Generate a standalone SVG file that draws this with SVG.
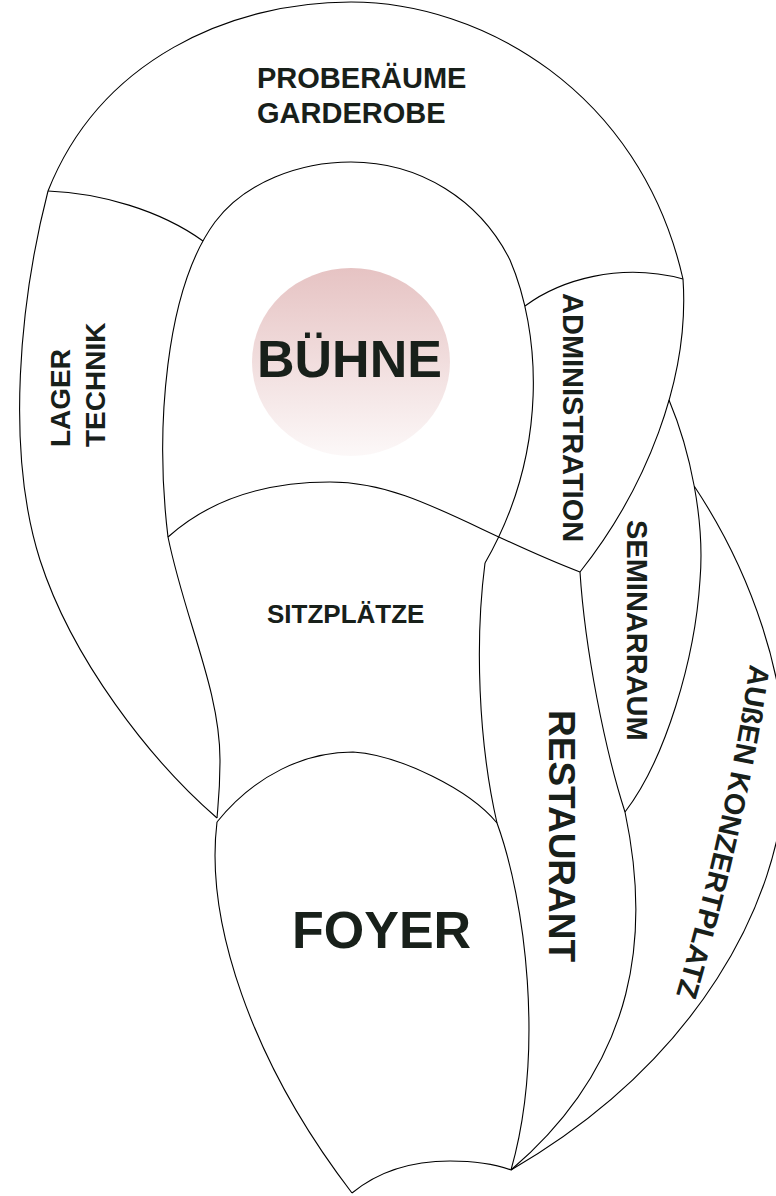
<svg xmlns="http://www.w3.org/2000/svg" width="776" height="1196" viewBox="0 0 776 1196">
<defs>
<linearGradient id="pink" x1="0" y1="0" x2="0" y2="1">
<stop offset="0" stop-color="#e6c3c3"/>
<stop offset="1" stop-color="#fcf8f8"/>
</linearGradient>
<path id="aussenPath" d="M750,664 Q 722,850 660,1048"/>
</defs>
<style>
.ln{fill:none;stroke:#000;stroke-width:1.1}
.lb{font-family:"Liberation Sans",Arial,sans-serif;font-weight:bold;fill:#18201a}
</style>
<rect width="776" height="1196" fill="#fff"/>
<g id="buehne-bg">
<ellipse cx="351" cy="362" rx="99" ry="94" fill="url(#pink)"/>
</g>
<g id="connectors">
<path class="ln" d="M48,191 C 100,60 230,2 351,2 C 480,2 640,90 683,279"/>
<path class="ln" d="M48,191 C 20,300 5,450 40,560 C 72,659 150,760 217,818"/>
<path class="ln" d="M48,191 C 100,193 160,210 203,241"/>
<path class="ln" d="M168,537 C 155,430 165,290 215,222 C 245,182 300,162 351,162 C 420,162 480,200 510,260 C 540,330 550,450 485,563"/>
<path class="ln" d="M525,306 C 560,280 620,262 683,279"/>
<path class="ln" d="M683,279 C 690,380 645,490 580,572"/>
<path class="ln" d="M168,537 C 215,495 275,482 330,482 C 410,482 470,530 580,572"/>
<path class="ln" d="M168,537 C 185,620 220,690 220,760 C 220,790 218,805 217,818"/>
<path class="ln" d="M485,563 C 475,640 478,740 497,823 C 525,900 545,1050 511,1170"/>
<path class="ln" d="M580,572 C 585,650 605,750 625,812"/>
<path class="ln" d="M625,812 C 650,930 640,1060 511,1170"/>
<path class="ln" d="M669,400 C 690,450 705,520 700,580 C 695,660 665,760 625,812"/>
<path class="ln" d="M694.3,486.3 C 750,570 790,680 785,780 C 780,900 700,1060 511,1170"/>
<path class="ln" d="M217,822 C 255,775 305,752 353,752 C 400,755 470,790 497,823"/>
<path class="ln" d="M217,822 C 205,920 250,1060 352,1193"/>
<path class="ln" d="M352,1193 C 380,1170 415,1161 450,1161 C 475,1161 495,1164 511,1170"/>
</g>
<g id="proberaeume"><text class="lb" x="257" y="88" font-size="29">PROBERÄUME</text><text class="lb" x="257" y="122.5" font-size="29">GARDEROBE</text></g>
<g id="buehne"><text class="lb" x="257" y="377" font-size="52">BÜHNE</text></g>
<g id="sitzplaetze"><text class="lb" x="267" y="623" font-size="26">SITZPLÄTZE</text></g>
<g id="lager"><text class="lb" font-size="28" transform="translate(69.5,447) rotate(-90)">LAGER</text><text class="lb" font-size="28" transform="translate(105,447) rotate(-90)">TECHNIK</text></g>
<g id="administration"><text class="lb" font-size="29" transform="translate(563,293) rotate(90)">ADMINISTRATION</text></g>
<g id="seminarraum"><text class="lb" font-size="29" transform="translate(627,520) rotate(90)">SEMINARRAUM</text></g>
<g id="restaurant"><text class="lb" font-size="37" transform="translate(549,710) rotate(90)">RESTAURANT</text></g>
<g id="foyer"><text class="lb" x="292" y="948" font-size="52">FOYER</text></g>
<g id="aussen"><text class="lb" font-size="29"><textPath href="#aussenPath">AUßEN KONZERTPLATZ</textPath></text></g>
</svg>
